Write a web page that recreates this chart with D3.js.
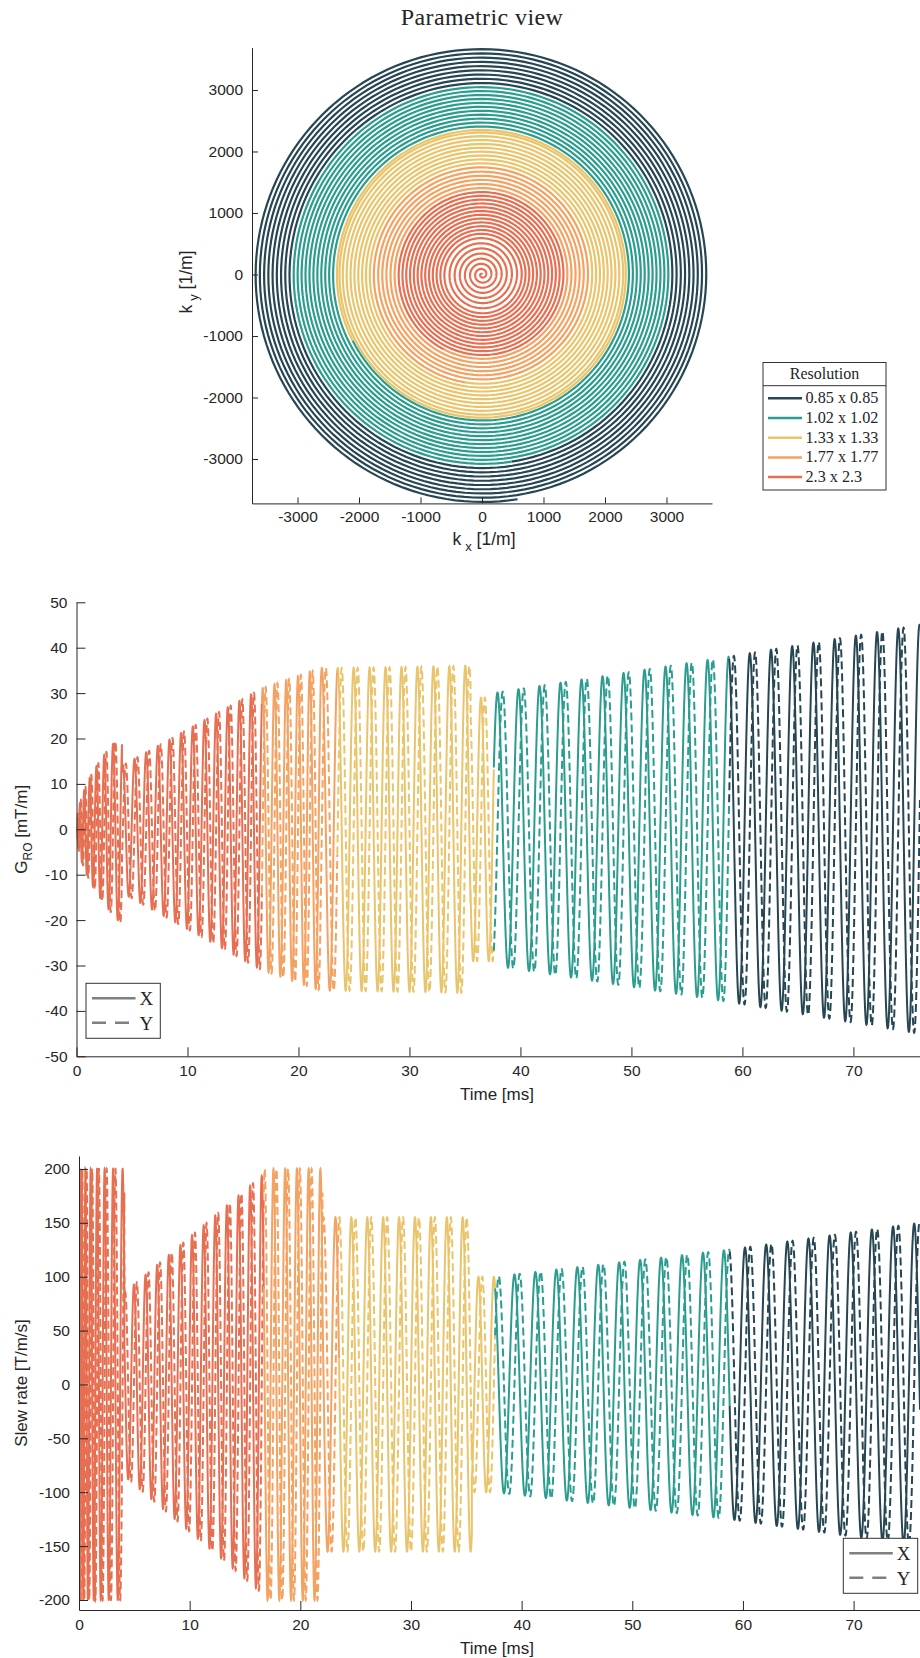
<!DOCTYPE html>
<html>
<head>
<meta charset="utf-8">
<script src="https://cdn.jsdelivr.net/npm/d3@7"></script>
<style>
  body { margin: 0; background: #fff; }
  svg text { font-family: "Liberation Sans", Arial, sans-serif; fill: #262626; }
  svg text.serif { font-family: "Liberation Serif", "Times New Roman", serif; }
</style>
</head>
<body>
<svg id="fig" width="920" height="1658"></svg>
<script>
// segments of the readout, outer (fine) to inner (coarse)
const resolutions = ['0.85 x 0.85', '1.02 x 1.02', '1.33 x 1.33', '1.77 x 1.77', '2.3 x 2.3'];
const colors = ['#264653', '#2a9d8f', '#e9c46a', '#f4a261', '#e76f51'];

// readout pieces (ms, mT/m, T/m/s) and the spiral (1/m)
const pieceSeg    = [4, 4, 3, 3, 2, 2, 1, 0];
const pieceStart  = [0, 4.1, 16.7, 22.0, 23.5, 35.5, 37.6, 58.8];
const pieceEnd    = [4.1, 16.7, 22.0, 23.5, 35.5, 37.6, 58.8, 76.0];
const pieceCycles = [7.5, 12, 5, 1.05, 8.35, 1.5, 11.2, 9];
const gradStart   = [0, 14, 31, 35.5, 35.5, 29, 30, 38];
const gradEnd     = [21, 31, 35.5, 35.5, 36, 29, 38, 45];
const slewStart   = [200, 85, 200, 155, 155, 100, 100, 125];
const slewEnd     = [200, 195, 200, 155, 155, 100, 125, 150];
const kStart      = [0, 626, 1366, 1700, 1775, 2300, 2362, 3080];
const kEnd        = [626, 1366, 1700, 1775, 2300, 2362, 3080, 3700];
const envPow      = [0.5, 1, 1, 1, 1, 1, 1, 1];
const phasePow    = [0.6, 1, 1, 1, 1, 1, 1, 1];
const endAngle = -81; // deg, where the outer spiral stops

const kTicks = [-3000, -2000, -1000, 0, 1000, 2000, 3000];
const timeTicks = [0, 10, 20, 30, 40, 50, 60, 70];
const gradTicks = [-50, -40, -30, -20, -10, 0, 10, 20, 30, 40, 50];
const slewTicks = [-200, -150, -100, -50, 0, 50, 100, 150, 200];

// build the trajectory, one run of points per segment
const runs = [];
let phase = endAngle * Math.PI / 180 - 2 * Math.PI * d3.sum(pieceCycles);
pieceStart.forEach((t0, i) => {
  const t1 = pieceEnd[i];
  const n = Math.max(60, Math.round(pieceCycles[i] * 160));
  let run = runs.length && runs[runs.length - 1].seg === pieceSeg[i] ? runs[runs.length - 1] : null;
  if (!run) { run = {seg: pieceSeg[i], pts: []}; runs.push(run); }
  for (let j = 0; j <= n; j++) {
    const u = j / n;
    const up = Math.pow(u, phasePow[i]);
    const ph = phase + 2 * Math.PI * pieceCycles[i] * up;
    const k = kStart[i] + (kEnd[i] - kStart[i]) * up;
    const g = gradStart[i] + (gradEnd[i] - gradStart[i]) * Math.pow(u, envPow[i]);
    const s = slewStart[i] + (slewEnd[i] - slewStart[i]) * u;
    run.pts.push({
      t: t0 + (t1 - t0) * u,
      kx: k * Math.cos(ph), ky: k * Math.sin(ph),
      gx: -g * Math.sin(ph), gy: g * Math.cos(ph),
      sx: -s * Math.cos(ph), sy: -s * Math.sin(ph)
    });
  }
  phase += 2 * Math.PI * pieceCycles[i];
});

const svg = d3.select('#fig');
const axisColor = '#262626';

function styleAxis(g) {
  g.selectAll('path.domain').attr('stroke', axisColor).attr('stroke-width', 1);
  g.selectAll('.tick line').attr('stroke', axisColor).attr('stroke-width', 1);
  g.selectAll('.tick text').attr('fill', axisColor).style('font-size', '15.5px')
    .style('font-family', '"Liberation Sans", Arial, sans-serif');
}

// ---------- parametric view ----------
const kx = d3.scaleLinear().domain([-3740, 3740]).range([252, 712]);
const ky = d3.scaleLinear().domain([-3722, 3689]).range([503.4, 47.6]);

svg.append('text').attr('class', 'serif').attr('x', 482).attr('y', 25)
  .attr('text-anchor', 'middle').style('font-size', '24px').style('letter-spacing', '0.4px')
  .text('Parametric view');

svg.append('defs').append('clipPath').attr('id', 'clipK')
  .append('rect').attr('x', 252).attr('y', 40).attr('width', 470).attr('height', 463.4);

const spiral = svg.append('g').attr('clip-path', 'url(#clipK)');
const kLine = d3.line().x(d => kx(d.kx)).y(d => ky(d.ky));
runs.slice().reverse().forEach(r => {
  spiral.append('path').attr('d', kLine(r.pts)).attr('fill', 'none')
    .attr('stroke', colors[r.seg]).attr('stroke-width', 2.2);
});

svg.append('g').attr('transform', 'translate(0,503.4)')
  .call(d3.axisBottom(kx).tickValues(kTicks).tickFormat(d => String(d)).tickSizeInner(-6).tickSizeOuter(0).tickPadding(8))
  .call(styleAxis);
svg.append('g').attr('transform', 'translate(252,0)')
  .call(d3.axisLeft(ky).tickValues(kTicks).tickFormat(d => String(d)).tickSizeInner(-6).tickSizeOuter(0).tickPadding(9))
  .call(styleAxis);

const kxLab = svg.append('text').attr('x', 484).attr('y', 545).attr('text-anchor', 'middle').style('font-size', '17.5px');
kxLab.append('tspan').text('k');
kxLab.append('tspan').attr('dx', 4).attr('dy', 6).style('font-size', '13px').text('x');
kxLab.append('tspan').attr('dy', -6).text(' [1/m]');
const kyLab = svg.append('text').attr('transform', 'translate(192,282) rotate(-90)').attr('text-anchor', 'middle').style('font-size', '17.5px');
kyLab.append('tspan').text('k');
kyLab.append('tspan').attr('dx', 4).attr('dy', 6).style('font-size', '13px').text('y');
kyLab.append('tspan').attr('dy', -6).text(' [1/m]');

// legend
const lg = svg.append('g');
lg.append('rect').attr('x', 763).attr('y', 362.5).attr('width', 123).attr('height', 127.5)
  .attr('fill', '#fff').attr('stroke', '#333').attr('stroke-width', 1);
lg.append('line').attr('x1', 763).attr('x2', 886).attr('y1', 385.7).attr('y2', 385.7)
  .attr('stroke', '#333').attr('stroke-width', 1);
lg.append('text').attr('class', 'serif').attr('x', 824.5).attr('y', 379).attr('text-anchor', 'middle')
  .style('font-size', '16px').text('Resolution');
resolutions.forEach((r, i) => {
  const y = 398.3 + i * 19.7;
  lg.append('line').attr('x1', 768).attr('x2', 802).attr('y1', y).attr('y2', y)
    .attr('stroke', colors[i]).attr('stroke-width', 2.5);
  lg.append('text').attr('class', 'serif').attr('x', 805.5).attr('y', y + 5)
    .style('font-size', '16.2px').text(r);
});

// ---------- time plots ----------
function timePlot(opt) {
  const x = d3.scaleLinear().domain([0, 76]).range([opt.left, 920]);
  const y = d3.scaleLinear().domain(opt.domain).range([opt.bottom, opt.top]);
  const id = 'clip' + opt.name;
  svg.select('defs').append('clipPath').attr('id', id)
    .append('rect').attr('x', opt.left).attr('y', opt.top - 4).attr('width', 920 - opt.left).attr('height', opt.bottom - opt.top + 4);
  const g = svg.append('g').attr('clip-path', `url(#${id})`);
  runs.forEach(r => {
    const lx = d3.line().x(d => x(d.t)).y(d => y(d[opt.fx]));
    const ly = d3.line().x(d => x(d.t)).y(d => y(d[opt.fy]));
    g.append('path').attr('d', lx(r.pts)).attr('fill', 'none')
      .attr('stroke', colors[r.seg]).attr('stroke-width', 2);
    g.append('path').attr('d', ly(r.pts)).attr('fill', 'none')
      .attr('stroke', colors[r.seg]).attr('stroke-width', 2).attr('stroke-dasharray', '8,4');
  });
  svg.append('g').attr('transform', `translate(0,${opt.bottom})`)
    .call(d3.axisBottom(x).tickValues(timeTicks).tickFormat(d => String(d)).tickSizeInner(-9).tickSizeOuter(0).tickPadding(9))
    .call(styleAxis);
  svg.append('g').attr('transform', `translate(${opt.left},0)`)
    .call(d3.axisLeft(y).tickValues(opt.ticks).tickFormat(d => String(d)).tickSizeInner(-9).tickSizeOuter(0).tickPadding(9))
    .call(styleAxis);
  svg.append('text').attr('x', 497).attr('y', opt.bottom + 44).attr('text-anchor', 'middle')
    .style('font-size', '17px').text('Time [ms]');
  const yl = svg.append('text').attr('transform', `translate(27,${(opt.top + opt.bottom) / 2}) rotate(-90)`)
    .attr('text-anchor', 'middle').style('font-size', '17px');
  opt.ylabel(yl);
  // X / Y legend
  const L = opt.legend;
  const lgd = svg.append('g');
  lgd.append('rect').attr('x', L[0]).attr('y', L[1]).attr('width', L[2]).attr('height', 55)
    .attr('fill', '#fff').attr('stroke', '#333').attr('stroke-width', 1);
  ['X', 'Y'].forEach((s, i) => {
    const yy = L[1] + 15 + i * 24.5;
    lgd.append('line').attr('x1', L[0] + 6).attr('x2', L[0] + 49.5).attr('y1', yy).attr('y2', yy)
      .attr('stroke', '#7f7f7f').attr('stroke-width', 2.5).attr('stroke-dasharray', i ? '14,9' : null);
    lgd.append('text').attr('class', 'serif').attr('x', L[0] + 53.5).attr('y', yy + 7)
      .style('font-size', '19px').text(s);
  });
}

timePlot({
  name: 'G', left: 76.5, top: 602.3, bottom: 1056.3, domain: [-50, 50], ticks: gradTicks,
  fx: 'gx', fy: 'gy', legend: [86, 983.3, 74.3],
  ylabel: t => {
    t.append('tspan').text('G');
    t.append('tspan').attr('dy', 5).style('font-size', '12px').text('RO');
    t.append('tspan').attr('dy', -5).text(' [mT/m]');
  }
});
timePlot({
  name: 'S', left: 79, top: 1156, bottom: 1610, domain: [-209.3, 212], ticks: slewTicks,
  fx: 'sx', fy: 'sy', legend: [843.3, 1538.3, 74.4],
  ylabel: t => t.text('Slew rate [T/m/s]')
});
</script>
</body>
</html>
